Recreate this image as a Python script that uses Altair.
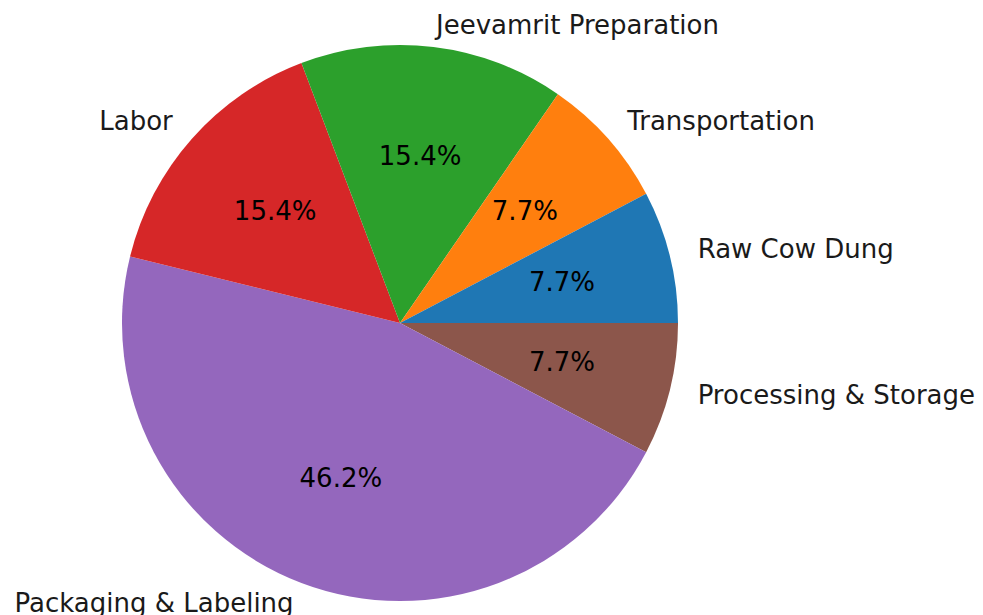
import math
import altair as alt
import pandas as pd

labels = ["Raw Cow Dung", "Transportation", "Jeevamrit Preparation", "Labor",
          "Packaging & Labeling", "Processing & Storage"]
values = [1, 1, 2, 2, 6, 1]
colors = ["#1f77b4", "#ff7f0e", "#2ca02c", "#d62728", "#9467bd", "#8c564b"]

R = 278            # pie radius (px)
LRX, LRY = 307, 299  # label ellipse radii (reference is slightly stretched)

total = sum(values)
rows = []
cum = 0
for i, (lab, v) in enumerate(zip(labels, values)):
    mid_ccw = cum + v / 2
    cum += v
    ang = 2 * math.pi * mid_ccw / total
    rows.append({
        "label": lab,
        "value": v,
        "pct": f"{100 * v / total:.1f}%",
        "order": len(labels) - 1 - i,   # clockwise order in Vega
        "right": math.cos(ang) > 0,
        "lr": math.hypot(LRX * math.cos(ang), LRY * math.sin(ang)),
    })
df = pd.DataFrame(rows)
df = df.sort_values("order").reset_index(drop=True)
df["mid"] = df["value"].cumsum() - df["value"] / 2

CX, CY = 392, 315
theta_scale = alt.Scale(domain=[0, total], range=[math.pi / 2, math.pi / 2 + 2 * math.pi])
color_scale = alt.Scale(domain=labels, range=colors)

base = alt.Chart(df)

arcs = base.mark_arc(radius=R, stroke=None).encode(
    theta=alt.Theta("value:Q", stack=True, scale=theta_scale),
    order=alt.Order("order:Q"),
    color=alt.Color("label:N", scale=color_scale, legend=None),
    x=alt.value(CX), y=alt.value(CY),
)

font = "DejaVu Sans"

pct = base.mark_text(radius=0.6 * R, font=font, fontSize=26, color="black",
                     align="center", baseline="middle").encode(
    theta=alt.Theta("mid:Q", stack=None, scale=theta_scale),
    text="pct:N",
    x=alt.value(CX), y=alt.value(CY),
)

def label_layer(right):
    cond = "datum.right" if right else "!datum.right"
    return base.transform_filter(cond).mark_text(
        font=font, fontSize=26, color="#1a1a1a",
        align="left" if right else "right", baseline="middle").encode(
        theta=alt.Theta("mid:Q", stack=None, scale=theta_scale),
        radius=alt.Radius("lr:Q", scale=None),
        text="label:N",
        x=alt.value(CX), y=alt.value(CY),
    )

chart = alt.layer(arcs, pct, label_layer(True), label_layer(False)).properties(
    width=967, height=607, autosize=alt.AutoSizeParams(type="none"), padding=0,
).configure_view(stroke=None)

chart.save("out.html", embed_options={"renderer": "svg", "actions": False})
